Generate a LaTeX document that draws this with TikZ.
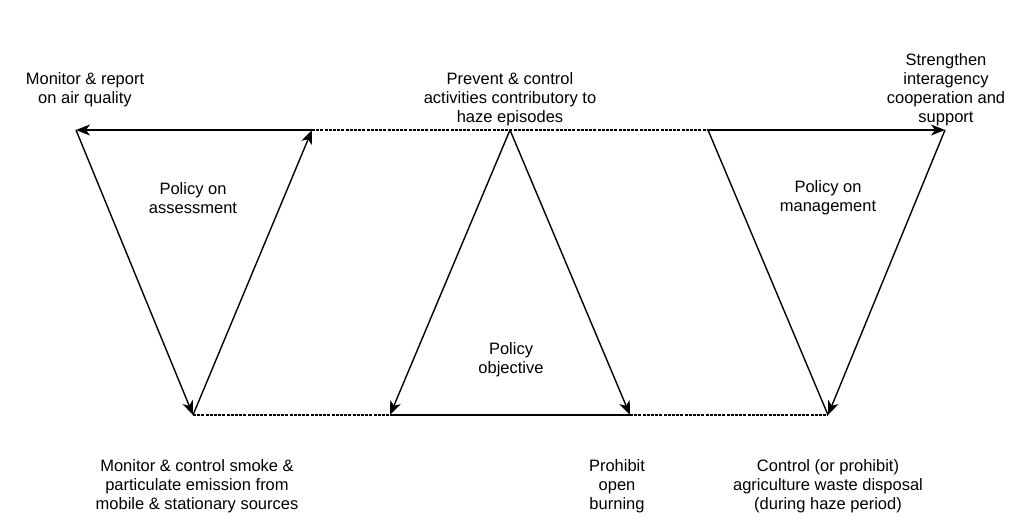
\documentclass[tikz,border=0pt]{standalone}
\usepackage{fontspec}
\setmainfont{Liberation Sans}
\usetikzlibrary{arrows.meta}

\begin{document}
\begin{tikzpicture}[x=1pt, y=-1pt,
    edge/.style={line width=1.4pt, -{Stealth[length=14pt, width=11pt, inset=4pt]}},
    plain/.style={line width=1.4pt},
    link/.style={line width=2.4pt, dash pattern=on 3pt off 1.2pt},
    lbl/.style={align=center, font=\fontsize{16.5}{19}\selectfont, inner sep=0pt}]
    \useasboundingbox (0,0) rectangle (1009,518);

    % Define the corners of the three triangles
    \coordinate (A) at (76,130);   % assessment, top left
    \coordinate (B) at (312,130);  % assessment, top right
    \coordinate (C) at (193,415);  % assessment, bottom
    \coordinate (D) at (510,130);  % objective, top
    \coordinate (E) at (390,415);  % objective, bottom left
    \coordinate (F) at (630,415);  % objective, bottom right
    \coordinate (G) at (708,130);  % management, top left
    \coordinate (H) at (945,130);  % management, top right
    \coordinate (I) at (828,415);  % management, bottom

    % Policy on assessment
    \draw[edge] (B) -- (A);
    \draw[edge] (A) -- (C);
    \draw[edge] (C) -- (B);

    % Policy objective
    \draw[edge] (D) -- (E);
    \draw[edge] (D) -- (F);
    \draw[plain] (E) -- (F);

    % Policy on management
    \draw[edge] (G) -- (H);
    \draw[edge] (H) -- (I);
    \draw[plain] (G) -- (I);

    % Dotted links between the triangles
    \draw[link] (B) -- (D) -- (G);
    \draw[link] (C) -- (E);
    \draw[link] (F) -- (I);

    % Labels inside the triangles
    \node[lbl] (assess) at (193,198) {Policy on\\assessment};
    \node[lbl] (obj) at (511,360) {Policy\\objective};
    \node[lbl] (manage) at (828,198) {Policy on\\management};

    % Labels at the corners
    \node[lbl] (mon) at (85,90) {Monitor \& report\\on air quality};
    \node[lbl] (prev) at (510,99) {Prevent \& control\\activities contributory to\\haze episodes};
    \node[lbl] (str) at (946,90) {Strengthen\\interagency\\cooperation and\\support};
    \node[lbl] (smoke) at (197,486) {Monitor \& control smoke \&\\particulate emission from\\mobile \& stationary sources};
    \node[lbl] (burn) at (617,486) {Prohibit\\open\\burning};
    \node[lbl] (waste) at (828,486) {Control (or prohibit)\\agriculture waste disposal\\(during haze period)};
\end{tikzpicture}
\end{document}
